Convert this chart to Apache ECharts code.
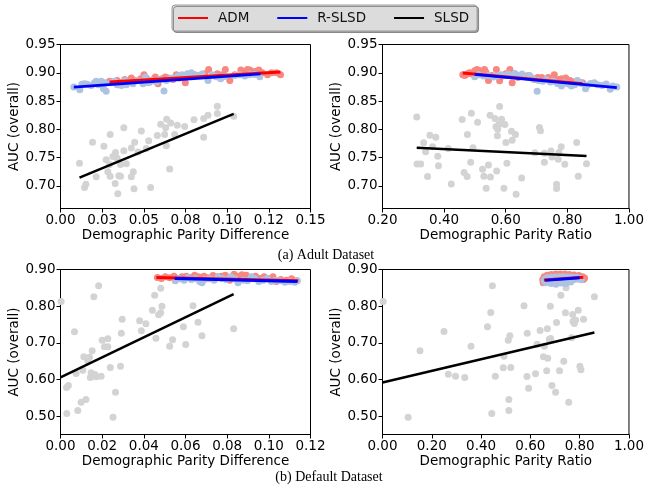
<!DOCTYPE html>
<html>
<head>
<meta charset="utf-8">
<script src="https://cdn.jsdelivr.net/npm/echarts@6/dist/echarts.min.js"></script>
<style>html,body{margin:0;padding:0;background:#fff}#c{width:647px;height:489px}</style>
</head>
<body>
<div id="c"></div>
<script>
// ---------- Legend / captions ----------
const seriesNames = ['ADM', 'R-SLSD', 'SLSD'];
const captionA = '(a) Adult Dataset';
const captionB = '(b) Default Dataset';
const xNameDiff = 'Demographic Parity Difference';
const xNameRatio = 'Demographic Parity Ratio';
const yName = 'AUC (overall)';

// ---------- Tick labels ----------
const xTicksA1 = ['0.00', '0.03', '0.05', '0.08', '0.10', '0.12', '0.15'];
const yTicksTop = [0.70, 0.75, 0.80, 0.85, 0.90, 0.95];
const yTicksBottom = [0.50, 0.60, 0.70, 0.80, 0.90];

// ---------- (a) Adult, Demographic Parity Difference ----------
const a1SLSD = [[0.0114,0.740],[0.0144,0.697],[0.0152,0.703],[0.0192,0.777],[0.0214,0.716],[0.0260,0.770],[0.0274,0.746],[0.0298,0.791],[0.0298,0.717],[0.0284,0.725],[0.0294,0.738],[0.0314,0.752],[0.0330,0.759],[0.0340,0.749],[0.0328,0.704],[0.0344,0.686],[0.0350,0.718],[0.0360,0.717],[0.0360,0.738],[0.0380,0.803],[0.0380,0.762],[0.0395,0.739],[0.0425,0.767],[0.0425,0.716],[0.0437,0.725],[0.0441,0.695],[0.0445,0.777],[0.0465,0.760],[0.0485,0.797],[0.0515,0.766],[0.0529,0.780],[0.0541,0.697],[0.0581,0.789],[0.0601,0.809],[0.0625,0.791],[0.0631,0.803],[0.0637,0.818],[0.0655,0.730],[0.0661,0.811],[0.0685,0.791],[0.0701,0.807],[0.0745,0.805],[0.0635,0.771],[0.0801,0.817],[0.0859,0.819],[0.0859,0.786],[0.0885,0.825],[0.0941,0.841],[0.0941,0.828],[0.1039,0.823]];
const a1ADM = [[0.0294,0.8848],[0.0314,0.8836],[0.0340,0.8865],[0.0365,0.8824],[0.0385,0.8883],[0.0409,0.8848],[0.0425,0.8906],[0.0455,0.8865],[0.0481,0.8894],[0.0501,0.8965],[0.0515,0.8906],[0.0535,0.8836],[0.0555,0.8883],[0.0569,0.8924],[0.0585,0.8806],[0.0609,0.8894],[0.0629,0.8924],[0.0649,0.8906],[0.0675,0.8883],[0.0695,0.8965],[0.0715,0.8906],[0.0749,0.8824],[0.0775,0.8941],[0.0805,0.8965],[0.0835,0.8953],[0.0865,0.8982],[0.0889,0.9059],[0.0915,0.8953],[0.0941,0.8982],[0.0969,0.8965],[0.0989,0.9059],[0.1016,0.8865],[0.1046,0.8965],[0.1082,0.9047],[0.1106,0.9023],[0.1122,0.9059],[0.1136,0.9047],[0.1152,0.9012],[0.1166,0.9023],[0.1190,0.9047],[0.1210,0.9000],[0.1242,0.8965],[0.1266,0.9000],[0.1296,0.9000],[0.1320,0.8965]];
const a1RSLSD = [[0.0080,0.8748],[0.0116,0.8701],[0.0128,0.8795],[0.0144,0.8806],[0.0160,0.8795],[0.0184,0.8777],[0.0204,0.8824],[0.0214,0.8848],[0.0228,0.8789],[0.0244,0.8848],[0.0258,0.8718],[0.0274,0.8672],[0.0264,0.8824],[0.0304,0.8824],[0.0324,0.8848],[0.0340,0.8789],[0.0365,0.8777],[0.0385,0.8865],[0.0395,0.8789],[0.0415,0.8836],[0.0435,0.8806],[0.0465,0.8865],[0.0495,0.8806],[0.0509,0.8924],[0.0525,0.8824],[0.0549,0.8865],[0.0575,0.8836],[0.0595,0.8883],[0.0621,0.8677],[0.0635,0.8865],[0.0655,0.8894],[0.0675,0.8906],[0.0705,0.8941],[0.0729,0.8965],[0.0761,0.8982],[0.0785,0.9000],[0.0795,0.8965],[0.0821,0.8953],[0.0849,0.8977],[0.0885,0.8865],[0.0909,0.8965],[0.0935,0.8930],[0.0961,0.8894],[0.0985,0.8935],[0.1046,0.8953],[0.1076,0.8965],[0.1106,0.8941],[0.1136,0.8965],[0.1166,0.8971],[0.1196,0.8930]];
const a1FitSLSD = [[0.0114,0.7147],[0.1039,0.8273]];
const a1FitADM = [[0.0294,0.8836],[0.1320,0.9012]];
const a1FitRSLSD = [[0.0080,0.8748],[0.1200,0.8982]];

// ---------- (a) Adult, Demographic Parity Ratio ----------
const a2SLSD = [[0.3111,0.8220],[0.3121,0.7387],[0.3239,0.7387],[0.3335,0.7763],[0.3399,0.7604],[0.3463,0.7164],[0.3538,0.7897],[0.3624,0.7692],[0.3730,0.7862],[0.3794,0.7522],[0.3816,0.7358],[0.4136,0.7663],[0.4232,0.7035],[0.4585,0.8173],[0.4649,0.7235],[0.4745,0.7164],[0.4756,0.7909],[0.4862,0.7416],[0.4884,0.8284],[0.4937,0.7675],[0.5087,0.8126],[0.5247,0.7293],[0.5290,0.7170],[0.5365,0.6959],[0.5439,0.7370],[0.5493,0.8249],[0.5503,0.7158],[0.5653,0.8191],[0.5685,0.8044],[0.5706,0.7264],[0.5728,0.7886],[0.5738,0.8003],[0.5781,0.8091],[0.5802,0.8402],[0.5866,0.8179],[0.5973,0.8085],[0.6005,0.7768],[0.6037,0.7399],[0.5941,0.6959],[0.6187,0.7968],[0.6208,0.7809],[0.6315,0.7909],[0.6337,0.6853],[0.6518,0.7141],[0.6945,0.7587],[0.7095,0.8032],[0.7127,0.7974],[0.7255,0.7416],[0.7255,0.7575],[0.7469,0.7616],[0.7501,0.7510],[0.7650,0.7029],[0.7650,0.6953],[0.7704,0.7469],[0.7725,0.7592],[0.7800,0.7692],[0.7917,0.7381],[0.8302,0.7768],[0.8355,0.7170],[0.8622,0.7393]];
const a2ADM = [[0.4606,0.8965],[0.4670,0.8953],[0.4745,0.8977],[0.4820,0.9000],[0.4905,0.8977],[0.4991,0.9035],[0.5066,0.9059],[0.5140,0.9041],[0.5226,0.9012],[0.5311,0.9059],[0.5354,0.9012],[0.5439,0.8865],[0.5546,0.8953],[0.5696,0.9059],[0.5802,0.8859],[0.5888,0.8941],[0.6005,0.8982],[0.6134,0.9059],[0.6208,0.8824],[0.6294,0.8977],[0.6400,0.8918],[0.6614,0.8941],[0.6742,0.8953],[0.6849,0.8906],[0.6935,0.8883],[0.7041,0.8918],[0.7170,0.8918],[0.7276,0.8883],[0.7383,0.8918],[0.7575,0.8965],[0.7682,0.8883],[0.7810,0.8894],[0.7949,0.8906],[0.8088,0.8865],[0.8216,0.8836],[0.8344,0.8848],[0.8494,0.8824]];
const a2RSLSD = [[0.4991,0.8930],[0.5119,0.8965],[0.5279,0.8941],[0.5439,0.8953],[0.5599,0.8924],[0.5706,0.8941],[0.5845,0.8965],[0.5973,0.8953],[0.6080,0.8977],[0.6187,0.8941],[0.6294,0.8988],[0.6422,0.8953],[0.6529,0.8977],[0.6668,0.8924],[0.6774,0.8953],[0.6881,0.8894],[0.7020,0.8672],[0.7063,0.8865],[0.7202,0.8848],[0.7308,0.8883],[0.7447,0.8836],[0.7554,0.8848],[0.7682,0.8812],[0.7810,0.8765],[0.7896,0.8824],[0.8024,0.8801],[0.8131,0.8765],[0.8238,0.8789],[0.8323,0.8865],[0.8451,0.8812],[0.8590,0.8718],[0.8644,0.8777],[0.8750,0.8812],[0.8879,0.8824],[0.8985,0.8789],[0.9124,0.8777],[0.9263,0.8801],[0.9391,0.8707],[0.9477,0.8765],[0.9605,0.8748]];
const a2FitSLSD = [[0.3111,0.7675],[0.8622,0.7528]];
const a2FitADM = [[0.4606,0.8994],[0.8494,0.8806]];
const a2FitRSLSD = [[0.4991,0.8971],[0.9605,0.8736]];

// ---------- (b) Default, Demographic Parity Difference ----------
const b1SLSD = [[0.0003,0.8127],[0.0029,0.5782],[0.0030,0.5073],[0.0038,0.5837],[0.0067,0.7300],[0.0083,0.5155],[0.0099,0.5382],[0.0112,0.6618],[0.0122,0.5455],[0.0139,0.6609],[0.0143,0.6055],[0.0152,0.6782],[0.0160,0.8255],[0.0165,0.6137],[0.0171,0.6073],[0.0183,0.8555],[0.0195,0.6091],[0.0200,0.7073],[0.0211,0.6891],[0.0227,0.7109],[0.0227,0.6891],[0.0239,0.6327],[0.0252,0.4973],[0.0264,0.5655],[0.0288,0.6364],[0.0292,0.7264],[0.0296,0.7646],[0.0380,0.7600],[0.0388,0.7327],[0.0410,0.7518],[0.0441,0.7891],[0.0452,0.8300],[0.0458,0.7127],[0.0471,0.7764],[0.0481,0.8491],[0.0481,0.7818],[0.0487,0.8000],[0.0524,0.6909],[0.0538,0.7082],[0.0590,0.7436],[0.0601,0.6955],[0.0636,0.8009],[0.0660,0.7564],[0.0679,0.7191],[0.0831,0.7382],[0.0075,0.6164],[0.0107,0.6255],[0.0131,0.6509],[0.0147,0.6182]];
const b1ADM = [[0.0465,0.8782],[0.0484,0.8755],[0.0503,0.8800],[0.0524,0.8773],[0.0545,0.8818],[0.0564,0.8755],[0.0583,0.8800],[0.0604,0.8818],[0.0625,0.8782],[0.0644,0.8845],[0.0663,0.8800],[0.0689,0.8818],[0.0708,0.8773],[0.0732,0.8836],[0.0753,0.8800],[0.0772,0.8818],[0.0791,0.8845],[0.0812,0.8709],[0.0833,0.8873],[0.0852,0.8818],[0.0871,0.8855],[0.0892,0.8845],[0.0913,0.8782],[0.0936,0.8818],[0.0956,0.8755],[0.0977,0.8800],[0.0996,0.8755],[0.1020,0.8800],[0.1036,0.8673],[0.1057,0.8727],[0.1085,0.8709],[0.1109,0.8745],[0.1133,0.8691]];
const b1RSLSD = [[0.0551,0.8691],[0.0572,0.8745],[0.0593,0.8709],[0.0612,0.8782],[0.0628,0.8727],[0.0647,0.8755],[0.0668,0.8673],[0.0679,0.8636],[0.0692,0.8727],[0.0716,0.8745],[0.0737,0.8709],[0.0756,0.8800],[0.0775,0.8755],[0.0796,0.8727],[0.0817,0.8800],[0.0836,0.8745],[0.0852,0.8636],[0.0876,0.8709],[0.0897,0.8691],[0.0916,0.8800],[0.0932,0.8745],[0.0952,0.8673],[0.0972,0.8709],[0.0993,0.8755],[0.1012,0.8673],[0.1032,0.8709],[0.1053,0.8691],[0.1077,0.8655],[0.1101,0.8673],[0.1125,0.8655],[0.1137,0.8691]];
const b1FitSLSD = [[0.0000,0.6055],[0.0831,0.8327]];
const b1FitADM = [[0.0460,0.8782],[0.1141,0.8691]];
const b1FitRSLSD = [[0.0548,0.8755],[0.1137,0.8673]];

// ---------- (b) Default, Demographic Parity Ratio ----------
const b2SLSD = [[0.0027,0.8127],[0.1041,0.4973],[0.1522,0.6782],[0.2496,0.7309],[0.2670,0.6146],[0.2964,0.6091],[0.3338,0.6055],[0.3591,0.6909],[0.4259,0.7436],[0.4392,0.7827],[0.4459,0.8555],[0.4432,0.5073],[0.4579,0.6091],[0.4899,0.6318],[0.4926,0.6636],[0.5100,0.7073],[0.5126,0.5455],[0.5126,0.5155],[0.5166,0.7191],[0.5206,0.6327],[0.5741,0.8009],[0.5861,0.6082],[0.5874,0.7264],[0.5927,0.5764],[0.6208,0.6155],[0.6275,0.6964],[0.6395,0.7336],[0.6528,0.6618],[0.6568,0.6909],[0.6662,0.6236],[0.6688,0.7382],[0.6702,0.6582],[0.6768,0.7100],[0.6809,0.8000],[0.6822,0.7118],[0.6875,0.5837],[0.7022,0.5655],[0.7062,0.7555],[0.7182,0.6236],[0.7236,0.8300],[0.7356,0.6500],[0.7423,0.7818],[0.7449,0.8500],[0.7556,0.5382],[0.7676,0.7136],[0.7716,0.7773],[0.7730,0.7582],[0.7783,0.7527],[0.7836,0.7618],[0.7943,0.7891],[0.8010,0.6364],[0.8050,0.6264],[0.8157,0.7646],[0.8597,0.8255]];
const b2ADM = [[0.6500,0.8720],[0.6560,0.8800],[0.6680,0.8845],[0.6850,0.8865],[0.7030,0.8875],[0.7220,0.8878],[0.7400,0.8875],[0.7580,0.8865],[0.7770,0.8850],[0.7970,0.8835],[0.8120,0.8805],[0.8200,0.8765],[0.8150,0.8725],[0.6520,0.8640]];
const b2RSLSD = [[0.6560,0.8700],[0.6620,0.8640],[0.6700,0.8780],[0.6730,0.8700],[0.6840,0.8620],[0.6850,0.8790],[0.6940,0.8680],[0.7000,0.8795],[0.7040,0.8600],[0.7130,0.8670],[0.7170,0.8800],[0.7240,0.8630],[0.7340,0.8800],[0.7350,0.8690],[0.7440,0.8620],[0.7510,0.8795],[0.7530,0.8710],[0.7640,0.8660],[0.7680,0.8790],[0.7770,0.8730],[0.7860,0.8780],[0.7900,0.8740],[0.8040,0.8760],[0.8060,0.8720],[0.6610,0.8745],[0.6900,0.8745],[0.7170,0.8730],[0.7440,0.8745],[0.7700,0.8765]];
const b2FitSLSD = [[0.0000,0.5918],[0.8597,0.7282]];
const b2FitADM = [[0.6550,0.8715],[0.8150,0.8790]];
const b2FitRSLSD = [[0.6600,0.8705],[0.8000,0.8775]];

// ---------- styling ----------
const FONT = 'DejaVu Sans';
const C_GRAY = '#d3d3d3', C_SALMON = '#f7877f', C_LBLUE = '#adc3e0';
const C_RED = '#ff0000', C_BLUE = '#0000ff', C_BLACK = '#000000';

const panels = [
  { grid: {left: 60.5, top: 44.5, width: 250, height: 164}, x: {min: 0, max: 0.15, interval: 0.025, fmt: v => xTicksA1[Math.round(v / 0.025)]}, xName: xNameDiff, y: {min: 0.66, max: 0.95, ticks: yTicksTop}, data: [a1SLSD, a1ADM, a1RSLSD, a1FitSLSD, a1FitADM, a1FitRSLSD] },
  { grid: {left: 382.5, top: 44.5, width: 250, height: 164}, x: {min: 0.2, max: 1.0, interval: 0.2, fmt: v => v.toFixed(2)}, xName: xNameRatio, y: {min: 0.66, max: 0.95, ticks: yTicksTop}, data: [a2SLSD, a2ADM, a2RSLSD, a2FitSLSD, a2FitADM, a2FitRSLSD] },
  { grid: {left: 60.5, top: 269.5, width: 250, height: 165}, x: {min: 0, max: 0.12, interval: 0.02, fmt: v => v.toFixed(2)}, xName: xNameDiff, y: {min: 0.45, max: 0.90, ticks: yTicksBottom}, data: [b1SLSD, b1ADM, b1RSLSD, b1FitSLSD, b1FitADM, b1FitRSLSD] },
  { grid: {left: 382.5, top: 269.5, width: 250, height: 165}, x: {min: 0, max: 1.0, interval: 0.2, fmt: v => v.toFixed(2)}, xName: xNameRatio, y: {min: 0.45, max: 0.90, ticks: yTicksBottom}, data: [b2SLSD, b2ADM, b2RSLSD, b2FitSLSD, b2FitADM, b2FitRSLSD] }
];

const textBase = {fontFamily: FONT, fontSize: 13.5, color: '#000'};
const grids = [], xAxes = [], yAxes = [], series = [];
panels.forEach((p, i) => {
  grids.push(Object.assign({show: true, borderColor: '#000', borderWidth: 1, backgroundColor: 'transparent'}, p.grid));
  xAxes.push({
    gridIndex: i, type: 'value', min: p.x.min, max: p.x.max, interval: p.x.interval,
    axisLine: {show: true, onZero: false, lineStyle: {color: '#000', width: 1}},
    axisTick: {show: true, length: 4, lineStyle: {color: '#000'}},
    axisLabel: Object.assign({margin: 5, formatter: p.x.fmt, showMinLabel: true, showMaxLabel: true}, textBase),
    splitLine: {show: false},
    name: p.xName, nameLocation: 'middle', nameGap: 19, nameTextStyle: Object.assign({}, textBase)
  });
  yAxes.push({
    gridIndex: i, type: 'value', min: p.y.min, max: p.y.max,
    axisLine: {show: true, onZero: false, lineStyle: {color: '#000', width: 1}},
    axisTick: {show: true, length: 4, lineStyle: {color: '#000'}, customValues: p.y.ticks},
    axisLabel: Object.assign({margin: 5, formatter: v => v.toFixed(2), customValues: p.y.ticks}, textBase),
    splitLine: {show: false},
    name: yName, nameLocation: 'middle', nameGap: 36, nameTextStyle: Object.assign({}, textBase)
  });
  const [sl, adm, rs, fsl, fadm, frs] = p.data;
  const sc = (name, d, color) => ({name, type: 'scatter', xAxisIndex: i, yAxisIndex: i, data: d, symbolSize: 7, itemStyle: {color, opacity: 1}, silent: true, animation: false, emphasis: {disabled: true}});
  const ln = (name, d, color, w) => ({name, type: 'line', xAxisIndex: i, yAxisIndex: i, data: d, showSymbol: false, symbol: 'none', lineStyle: {color, width: w}, itemStyle: {color}, silent: true, animation: false, emphasis: {disabled: true}});
  series.push(sc('SLSD points', sl, C_GRAY));
  series.push(sc('ADM points', adm, C_SALMON));
  series.push(sc('R-SLSD points', rs, C_LBLUE));
  series.push(ln(seriesNames[2], fsl, C_BLACK, 2.5));
  series.push(ln(seriesNames[0], fadm, C_RED, 3));
  series.push(ln(seriesNames[1], frs, C_BLUE, 2.8));
});

const legendColors = {'ADM': C_RED, 'R-SLSD': C_BLUE, 'SLSD': C_BLACK};
const option = {
  backgroundColor: '#fff',
  animation: false,
  legend: {
    left: 172, top: 5,
    data: seriesNames.map(n => ({name: n, icon: 'rect', itemStyle: {color: legendColors[n]}})),
    itemWidth: 30, itemHeight: 2, itemGap: 28,
    textStyle: {fontFamily: FONT, fontSize: 13.5, color: '#111', padding: [0, 0, 0, 5]},
    backgroundColor: '#dcdcdc', borderColor: '#9a9a9a', borderWidth: 1, borderRadius: 3,
    padding: [6, 8, 6, 6],
    shadowColor: 'rgba(0,0,0,0.35)', shadowOffsetX: 1.5, shadowOffsetY: 1.5, shadowBlur: 0,
    selectedMode: false
  },
  grid: grids,
  xAxis: xAxes,
  yAxis: yAxes,
  series: series,
  graphic: [
    {type: 'text', x: 326, y: 255, style: {text: captionA, font: '14px "Liberation Serif"', textAlign: 'center', textVerticalAlign: 'middle', fill: '#000'}},
    {type: 'text', x: 329, y: 477, style: {text: captionB, font: '14px "Liberation Serif"', textAlign: 'center', textVerticalAlign: 'middle', fill: '#000'}}
  ]
};
const chart = echarts.init(document.getElementById('c'), null, {renderer: 'canvas', width: 647, height: 489});
chart.setOption(option);
</script>
</body>
</html>
